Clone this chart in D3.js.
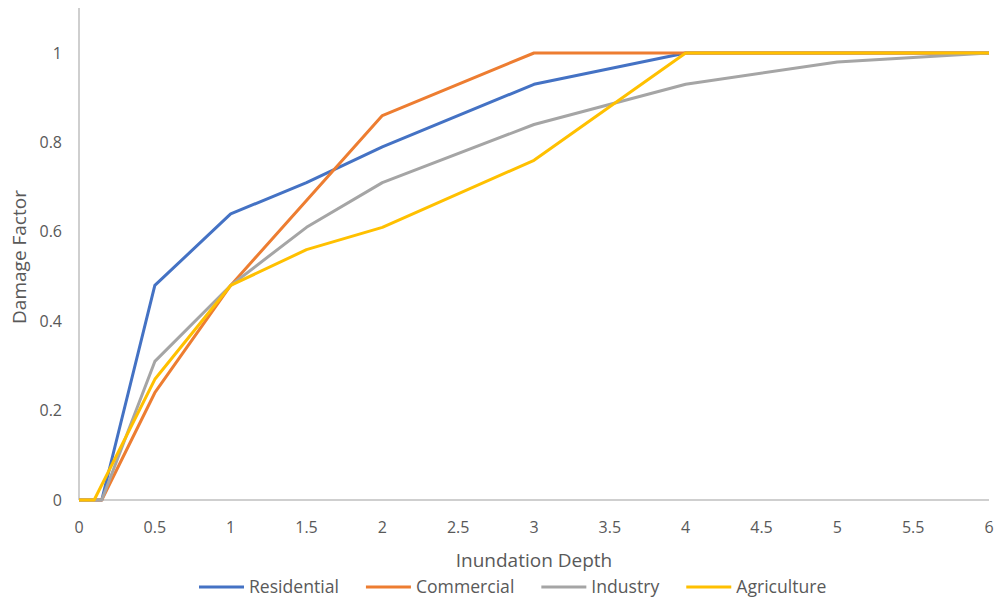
<!DOCTYPE html>
<html>
<head>
<meta charset="utf-8">
<script src="https://cdn.jsdelivr.net/npm/d3@7"></script>
<style>
  body { margin: 0; background: #fff; }
  text { font-family: "Open Sans", sans-serif; fill: #595959; }
</style>
</head>
<body>
<svg id="chart" width="998" height="600"></svg>
<script>
// depths (x) and damage factors per land use
var depths = [0, 0.15, 0.5, 1, 1.5, 2, 3, 4, 5, 6];
var depthsAgri = [0, 0.1, 0.5, 1, 1.5, 2, 3, 4, 5, 6];
var residential = [0, 0, 0.48, 0.64, 0.71, 0.79, 0.93, 1, 1, 1];
var commercial  = [0, 0, 0.24, 0.48, 0.67, 0.86, 1, 1, 1, 1];
var industry    = [0, 0, 0.31, 0.48, 0.61, 0.71, 0.84, 0.93, 0.98, 1];
var agriculture = [0, 0, 0.27, 0.48, 0.56, 0.61, 0.76, 1, 1, 1];

var seriesNames = ["Residential", "Commercial", "Industry", "Agriculture"];
var colors = ["#4472C4", "#ED7D31", "#A5A5A5", "#FFC000"];

var xTicks = d3.range(0, 6.01, 0.5);
var yTicks = [0, 0.2, 0.4, 0.6, 0.8, 1];

var series = [
  {name: seriesNames[0], xs: depths, ys: residential, color: colors[0]},
  {name: seriesNames[1], xs: depths, ys: commercial, color: colors[1]},
  {name: seriesNames[2], xs: depths, ys: industry, color: colors[2]},
  {name: seriesNames[3], xs: depthsAgri, ys: agriculture, color: colors[3]}
];

var svg = d3.select("#chart");
var plotL = 79, plotR = 989, plotT = 53, plotB = 500;

var x = d3.scaleLinear().domain([0, 6]).range([plotL, plotR]);
var y = d3.scaleLinear().domain([0, 1]).range([plotB, plotT]);

// axis lines
svg.append("line")
  .attr("x1", plotL).attr("x2", plotL).attr("y1", 8).attr("y2", plotB)
  .attr("stroke", "#bfbfbf").attr("stroke-width", 1.5);
svg.append("line")
  .attr("x1", plotL).attr("x2", plotR).attr("y1", plotB).attr("y2", plotB)
  .attr("stroke", "#bfbfbf").attr("stroke-width", 1.5);

// tick labels
svg.selectAll(".xt").data(xTicks).enter().append("text")
  .attr("class", "xt")
  .attr("x", function(d) { return x(d); })
  .attr("y", 533)
  .attr("text-anchor", "middle")
  .style("font-size", "16px")
  .text(function(d) { return d; });

svg.selectAll(".yt").data(yTicks).enter().append("text")
  .attr("class", "yt")
  .attr("x", 62)
  .attr("y", function(d) { return y(d) + 5.5; })
  .attr("text-anchor", "end")
  .style("font-size", "16px")
  .text(function(d) { return d; });

// axis titles
svg.append("text")
  .attr("x", (plotL + plotR) / 2)
  .attr("y", 567)
  .attr("text-anchor", "middle")
  .style("font-size", "19px")
  .text("Inundation Depth");

svg.append("text")
  .attr("transform", "translate(26," + 257 + ") rotate(-90)")
  .attr("text-anchor", "middle")
  .style("font-size", "19px")
  .text("Damage Factor");

// lines
var line = d3.line()
  .x(function(d) { return x(d[0]); })
  .y(function(d) { return y(d[1]); });

series.forEach(function(s) {
  svg.append("path")
    .datum(d3.zip(s.xs, s.ys))
    .attr("fill", "none")
    .attr("stroke", s.color)
    .attr("stroke-width", 3)
    .attr("stroke-linejoin", "round")
    .attr("d", line);
});

// legend
var lg = svg.append("g");
var cx = 199;
series.forEach(function(s) {
  lg.append("line")
    .attr("x1", cx).attr("x2", cx + 45)
    .attr("y1", 587).attr("y2", 587)
    .attr("stroke", s.color).attr("stroke-width", 3);
  var t = lg.append("text")
    .attr("x", cx + 50)
    .attr("y", 593)
    .style("font-size", "17.6px")
    .text(s.name);
  cx += 50 + t.node().getComputedTextLength() + 27;
});
</script>
</body>
</html>
